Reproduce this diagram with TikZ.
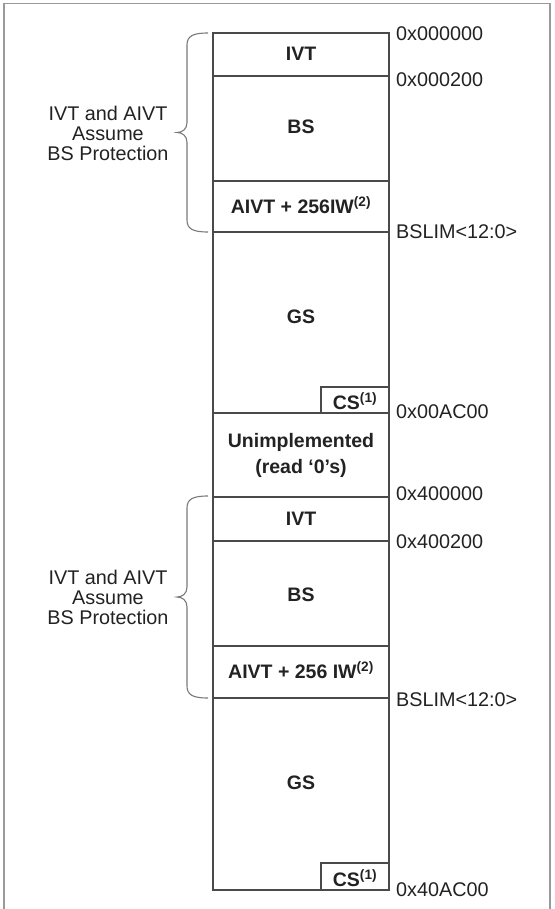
\documentclass[tikz,border=0pt]{standalone}
\usepackage{fontspec}
\setmainfont{Liberation Sans}
\usepackage{tikz}
\definecolor{memline}{HTML}{4A4A4A}
\definecolor{memtext}{HTML}{222222}
\definecolor{framegray}{HTML}{9A9A9A}
\definecolor{bracegray}{HTML}{7A7A7A}
\tikzset{region/.style={font=\bfseries\fontsize{19.5}{20}\selectfont,text=memtext,align=center},
  addr/.style={anchor=west,inner sep=0pt,font=\fontsize{19.8}{20}\selectfont,text=memtext},
  note/.style={align=center,font=\fontsize{19.8}{20}\selectfont,text=memtext}
}

\begin{document}
\begin{tikzpicture}[x=1pt,y=-1pt]
                \useasboundingbox (0,0) rectangle (554,909);
                % Frame
                \draw[framegray,line width=1.8pt] (4,915) -- (4,3.5) -- (550,3.5) -- (550,915);

                % Memory column
                \draw[memline,line width=1.2pt] (213,33) rectangle (389,890);
                \foreach \y in {76,181,232,413,497,541,646,698}
                    \draw[memline,line width=1.2pt] (213,\y) -- (389,\y);
                \draw[memline,line width=1.2pt] (321,413) |- (389,387);
                \draw[memline,line width=1.2pt] (321,890) |- (389,863);

                % Braces
                \foreach \t/\b in {33/232,496/698}{
                    \pgfmathsetmacro{\m}{(\t+\b)/2}
                    \draw[bracegray,line width=1.1pt] (208,\t) .. controls (193,\t) and (187,\t+3) .. (187,\t+12)
                        -- (187,\m-10) .. controls (187,\m-3) and (182,\m) .. (177,\m)
                        .. controls (182,\m) and (187,\m+3) .. (187,\m+10)
                        -- (187,\b-12) .. controls (187,\b-3) and (193,\b) .. (208,\b);
                }

                % Region labels
                \node[region] (ivtA) at (301,54) {IVT};
                \node[region] (bsA) at (301,127) {BS};
                \node[region] (aivtA) at (301,205) {AIVT + 256IW\textsuperscript{(2)}};
                \node[region] (gsA) at (301,317) {GS};
                \node[region] (csA) at (355,401) {CS\textsuperscript{(1)}};
                \node[region,font=\bfseries\fontsize{19.5}{26}\selectfont] (unimpl) at (301,455) {Unimplemented\\(read ‘0’s)};
                \node[region] (ivtB) at (301,519) {IVT};
                \node[region] (bsB) at (301,595) {BS};
                \node[region] (aivtB) at (301,670) {AIVT + 256 IW\textsuperscript{(2)}};
                \node[region] (gsB) at (301,783) {GS};
                \node[region] (csB) at (355,878) {CS\textsuperscript{(1)}};

                % Addresses
                \node[addr] (a0) at (396,34) {0x000000};
                \node[addr] (a1) at (396,80) {0x000200};
                \node[addr] (a2) at (396,232) {BSLIM<12:0>};
                \node[addr] (a3) at (396,412) {0x00AC00};
                \node[addr] (a4) at (396,494) {0x400000};
                \node[addr] (a5) at (396,542) {0x400200};
                \node[addr] (a6) at (396,700) {BSLIM<12:0>};
                \node[addr] (a7) at (396,890) {0x40AC00};

                % Protection notes
                \node[note] (protA) at (108,133) {IVT and AIVT\\Assume\\BS Protection};
                \node[note] (protB) at (108,597) {IVT and AIVT\\Assume\\BS Protection};
            \end{tikzpicture}
\end{document}
